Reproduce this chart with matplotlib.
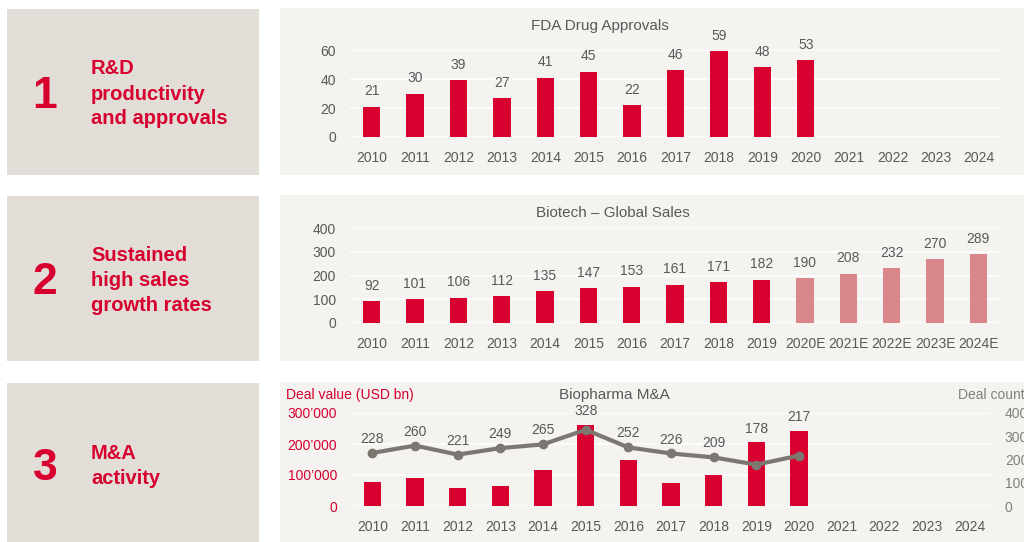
import matplotlib.pyplot as plt
from matplotlib.patches import Rectangle
from matplotlib.ticker import FuncFormatter

plt.rcParams['font.family'] = ['Liberation Sans', 'DejaVu Sans']

# data
years = ["2010", "2011", "2012", "2013", "2014", "2015", "2016", "2017",
         "2018", "2019", "2020", "2021", "2022", "2023", "2024"]
fda_approvals = [21, 30, 39, 27, 41, 45, 22, 46, 59, 48, 53]

sales_years = ["2010", "2011", "2012", "2013", "2014", "2015", "2016", "2017",
               "2018", "2019", "2020E", "2021E", "2022E", "2023E", "2024E"]
sales = [92, 101, 106, 112, 135, 147, 153, 161, 171, 182, 190, 208, 232, 270, 289]
n_actual = 10  # 2010-2019 actual, rest estimates

deal_value = [77000, 90000, 59000, 66000, 115000, 262000, 150000, 74000,
              101000, 205000, 241000]
deal_count = [228, 260, 221, 249, 265, 328, 252, 226, 209, 178, 217]

row_titles = ["R&D\nproductivity\nand approvals",
              "Sustained\nhigh sales\ngrowth rates",
              "M&A\nactivity"]

RED = "#D7002E"
PINK = "#D9878B"
GREY_TXT = "#595959"
LINE_GREY = "#7D7772"
BOX = "#E2DDD6"
PANEL = "#F4F3F0"

W, H = 1024, 542
fig = plt.figure(figsize=(W / 100, H / 100), dpi=100)


def rect(x0, y0, x1, y1):
    # pixel box (top-left origin) -> figure fraction [l, b, w, h]
    return [x0 / W, 1 - y1 / H, (x1 - x0) / W, (y1 - y0) / H]


def add_box(x0, y0, x1, y1, color):
    l, b, w, h = rect(x0, y0, x1, y1)
    fig.add_artist(Rectangle((l, b), w, h, transform=fig.transFigure,
                             facecolor=color, edgecolor="none", zorder=-10))


# left boxes and right panels
rows = [(9, 175), (196, 361), (383, 545)]
for i, (y0, y1) in enumerate(rows):
    add_box(7, y0, 259, y1, BOX)
    add_box(280, y0 - 1, 1030, y1, PANEL)
    yc = (y0 + y1) / 2
    fig.text(45 / W, 1 - (yc + 4) / H, str(i + 1), color=RED, fontsize=32,
             fontweight="bold", ha="center", va="center")
    fig.text(91 / W, 1 - (yc + 2) / H, row_titles[i], color=RED, fontsize=14.5,
             fontweight="bold", ha="left", va="center", linespacing=1.4)


def style_axes(ax):
    ax.set_facecolor("none")
    for s in ax.spines.values():
        s.set_visible(False)
    ax.grid(axis="y", color="white", linewidth=1.2)
    ax.set_axisbelow(True)
    ax.tick_params(length=0, labelsize=10, labelcolor=GREY_TXT)
    ax.tick_params(axis="x", pad=10)
    ax.tick_params(axis="y", pad=10)
    ax.set_xlim(-0.5, 14.5)


# 1 - FDA approvals
ax1 = fig.add_axes(rect(350, 50, 1001, 137))
style_axes(ax1)
b1 = ax1.bar(range(len(fda_approvals)), fda_approvals, width=0.4, color=RED)
ax1.bar_label(b1, padding=6, fontsize=10, color=GREY_TXT)
ax1.set_ylim(0, 60)
ax1.set_yticks([0, 20, 40, 60])
ax1.set_xticks(range(len(years)))
ax1.set_xticklabels(years)
fig.text(600 / W, 1 - 26 / H, "FDA Drug Approvals", fontsize=11,
         color=GREY_TXT, ha="center", va="center")

# 2 - biotech sales
ax2 = fig.add_axes(rect(350, 228, 1000, 323))
style_axes(ax2)
colors = [RED] * n_actual + [PINK] * (len(sales) - n_actual)
b2 = ax2.bar(range(len(sales)), sales, width=0.4, color=colors)
ax2.bar_label(b2, padding=6, fontsize=10, color=GREY_TXT)
ax2.set_ylim(0, 400)
ax2.set_yticks([0, 100, 200, 300, 400])
ax2.set_xticks(range(len(sales_years)))
ax2.set_xticklabels(sales_years)
fig.text(613 / W, 1 - 213 / H, "Biotech \u2013 Global Sales", fontsize=11,
         color=GREY_TXT, ha="center", va="center")

# 3 - M&A
ax3 = fig.add_axes(rect(351, 413, 991, 506))
style_axes(ax3)
ax3.bar(range(len(deal_value)), deal_value, width=0.4, color=RED)
ax3.set_ylim(0, 300000)
ax3.set_yticks([0, 100000, 200000, 300000])
ax3.yaxis.set_major_formatter(
    FuncFormatter(lambda v, p: "0" if v == 0 else f"{int(v):,}".replace(",", "\u2019")))
ax3.tick_params(axis="y", labelcolor=RED)
ax3.set_xticks(range(len(years)))
ax3.set_xticklabels(years)

ax3r = ax3.twinx()
for s in ax3r.spines.values():
    s.set_visible(False)
ax3r.set_ylim(0, 400)
ax3r.set_yticks([0, 100, 200, 300, 400])
ax3r.tick_params(length=0, labelsize=10, labelcolor="#7F7F7F", pad=10)
ax3r.plot(range(len(deal_count)), deal_count, color=LINE_GREY, linewidth=3,
          marker="o", markersize=6, zorder=3)
for i, c in enumerate(deal_count):
    top = max(c, deal_value[i] * 400 / 300000)
    ax3r.annotate(str(c), (i, top), xytext=(0, 5), textcoords="offset points",
                  ha="center", va="bottom", fontsize=10, color=GREY_TXT)

fig.text(614 / W, 1 - 395 / H, "Biopharma M&A", fontsize=11,
         color=GREY_TXT, ha="center", va="center")
fig.text(286 / W, 1 - 395 / H, "Deal value (USD bn)", fontsize=10,
         color=RED, ha="left", va="center")
fig.text(958 / W, 1 - 395 / H, "Deal count", fontsize=10,
         color="#7F7F7F", ha="left", va="center")

plt.savefig("out.png", dpi=100)
